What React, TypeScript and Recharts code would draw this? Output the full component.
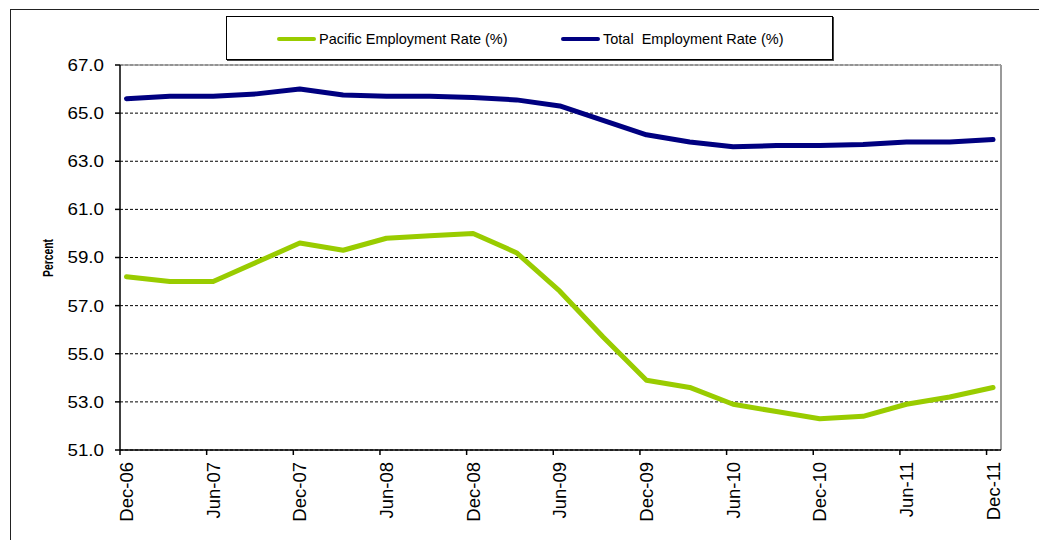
import { LineChart, Line, XAxis, YAxis, CartesianGrid, ReferenceLine } from "recharts";

const quarters = [
  "Dec-06", "Mar-07", "Jun-07", "Sep-07", "Dec-07", "Mar-08", "Jun-08", "Sep-08",
  "Dec-08", "Mar-09", "Jun-09", "Sep-09", "Dec-09", "Mar-10", "Jun-10", "Sep-10",
  "Dec-10", "Mar-11", "Jun-11", "Sep-11", "Dec-11",
];

const pacificRate = [
  58.2, 58.0, 58.0, 58.8, 59.6, 59.3, 59.8, 59.9, 60.0, 59.2, 57.6,
  55.7, 53.9, 53.6, 52.9, 52.6, 52.3, 52.4, 52.9, 53.2, 53.6,
];

const totalRate = [
  65.6, 65.7, 65.7, 65.8, 66.0, 65.75, 65.7, 65.7, 65.65, 65.55, 65.3,
  64.7, 64.1, 63.8, 63.6, 63.65, 63.65, 63.7, 63.8, 63.8, 63.9,
];

const yTicks = [51, 53, 55, 57, 59, 61, 63, 65, 67];
// month offsets of the labelled ticks (every second quarter)
const xTicks = [0, 6, 12, 18, 24, 30, 36, 42, 48, 54, 60];

const GREEN = "#99cc00";
const NAVY = "#000080";
const FONT = "'Liberation Sans', Arial, sans-serif";

// points sit mid-month, a little right of the month tick
const data = quarters.map((q, i) => ({
  q,
  m: i * 3 + 0.45,
  pacific: pacificRate[i],
  total: totalRate[i],
}));

function XTick({ x, y, payload }: any) {
  const label = quarters[payload.value / 3];
  return (
    <g transform={`translate(${x + 6.5},${y + 7})`}>
      <text
        transform="rotate(-90)"
        textAnchor="end"
        dy="0.36em"
        fontSize={18.5}
        fontFamily={FONT}
        fill="#000"
      >
        {label}
      </text>
    </g>
  );
}

function YTick({ x, y, payload }: any) {
  return (
    <text
      x={x}
      y={y}
      dy="0.36em"
      textAnchor="end"
      fontSize={16.5}
      fontFamily={FONT}
      fill="#000"
      textLength={36.5}
      lengthAdjust="spacingAndGlyphs"
    >
      {payload.value.toFixed(1)}
    </text>
  );
}

function LegendBox() {
  const item = (color: string, text: string, left: number) => (
    <div
      style={{
        position: "absolute",
        left,
        top: 0,
        height: 43,
        display: "flex",
        alignItems: "center",
        gap: 3,
      }}
    >
      <span style={{ width: 39, height: 4, background: color, borderRadius: 2 }} />
      <span style={{ fontSize: 14.5, whiteSpace: "pre", fontFamily: FONT, color: "#000" }}>{text}</span>
    </div>
  );
  return (
    <div
      style={{
        position: "absolute",
        left: 226,
        top: 16,
        width: 605,
        height: 42,
        border: "1px solid #000",
        boxShadow: "1px 1px 0 #444",
        background: "#fff",
      }}
    >
      {item(GREEN, "Pacific Employment Rate (%)", 50)}
      {item(NAVY, "Total  Employment Rate (%)", 334)}
    </div>
  );
}

export default function App() {
  return (
    <div
      style={{
        position: "absolute",
        left: 0,
        top: 0,
        width: 1039,
        height: 540,
        background: "#fff",
        overflow: "hidden",
        fontFamily: FONT,
      }}
    >
      <div
        style={{
          position: "absolute",
          left: 10,
          top: 9,
          width: 1100,
          height: 600,
          borderLeft: "1.5px solid #222",
          borderTop: "1.5px solid #222",
        }}
      />
      <div style={{ position: "absolute", left: 0, top: 0 }}>
        <LineChart
          width={1039}
          height={540}
          data={data}
          margin={{ top: 65, right: 38, bottom: 10, left: 60 }}
        >
          <CartesianGrid vertical={false} stroke="#000" strokeDasharray="3 2" strokeWidth={1} />
          <XAxis
            type="number"
            dataKey="m"
            domain={[0, 61]}
            ticks={xTicks}
            interval={0}
            height={80}
            tickSize={5}
            tickMargin={0}
            axisLine={{ stroke: "#000", strokeWidth: 1.5 }}
            tickLine={{ stroke: "#000", strokeWidth: 1.5 }}
            tick={<XTick />}
          />
          <YAxis
            type="number"
            domain={[51, 67]}
            ticks={yTicks}
            interval={0}
            width={60}
            tickSize={5}
            tickMargin={11}
            axisLine={{ stroke: "#000", strokeWidth: 1.5 }}
            tickLine={{ stroke: "#000", strokeWidth: 1.5 }}
            tick={<YTick />}
          />
          <ReferenceLine y={67} stroke="#9a9a9a" strokeWidth={1.5} />
          <ReferenceLine x={61} stroke="#9a9a9a" strokeWidth={2} />
          <Line
            type="linear"
            dataKey="pacific"
            stroke={GREEN}
            strokeWidth={5}
            dot={false}
            strokeLinejoin="round"
            strokeLinecap="round"
            isAnimationActive={false}
          />
          <Line
            type="linear"
            dataKey="total"
            stroke={NAVY}
            strokeWidth={5}
            dot={false}
            strokeLinejoin="round"
            strokeLinecap="round"
            isAnimationActive={false}
          />
        </LineChart>
      </div>
      <svg style={{ position: "absolute", left: 0, top: 0 }} width={80} height={540}>
        <text
          transform="translate(48,258) rotate(-90)"
          textAnchor="middle"
          dy="0.36em"
          fontSize={15}
          fontWeight="bold"
          fontFamily={FONT}
          textLength={38}
          lengthAdjust="spacingAndGlyphs"
          fill="#000"
        >
          Percent
        </text>
      </svg>
      <LegendBox />
    </div>
  );
}
